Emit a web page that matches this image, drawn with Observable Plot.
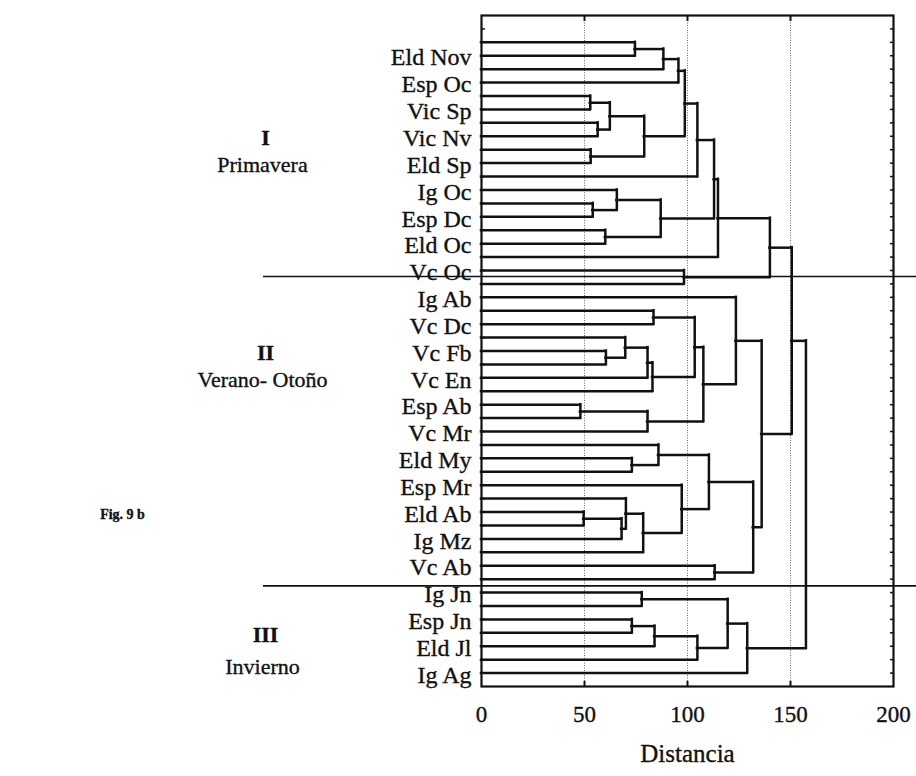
<!DOCTYPE html>
<html>
<head>
<meta charset="utf-8">
<script src="https://cdn.jsdelivr.net/npm/d3@7"></script>
<script src="https://cdn.jsdelivr.net/npm/@observablehq/plot@0.6"></script>
<style>
  body { margin: 0; background: #fff; }
  svg { display: block; }
</style>
</head>
<body>
<div id="chart"></div>
<script>
// Case labels, top to bottom (each label spans two consecutive leaves)
const leafLabels = [
  "Eld Nov", "Esp Oc", "Vic Sp", "Vic Nv", "Eld Sp", "Ig Oc", "Esp Dc", "Eld Oc", "Vc Oc",
  "Ig Ab", "Vc Dc", "Vc Fb", "Vc En", "Esp Ab", "Vc Mr", "Eld My", "Esp Mr", "Eld Ab", "Ig Mz", "Vc Ab",
  "Ig Jn", "Esp Jn", "Eld Jl", "Ig Ag"
];
const leafCount = 48;

// Agglomeration steps: [a, b, distance]; negative = leaf number, positive = earlier step number
const merges = [
  [-1, -2, 74.5], [1, -3, 88.3], [2, -4, 95.6],
  [-5, -6, 52.8], [-7, -8, 56.4], [4, 5, 62.3], [-9, -10, 53], [6, 7, 79],
  [3, 8, 98.7], [9, -11, 104.8],
  [-13, -14, 54], [-12, 11, 65.7], [-15, -16, 60.1], [12, 13, 87],
  [10, 14, 112.9], [15, -17, 114.8], [-18, -19, 98.3], [16, 17, 140],
  [-21, -22, 83.5], [-24, -25, 60.4], [-23, 20, 69.8], [21, -26, 80.6], [22, -27, 83],
  [19, 23, 103.5], [-28, -29, 48], [25, -30, 80.6], [24, 26, 107.7], [-20, 27, 123.5],
  [-32, -33, 73], [-31, 29, 85.9], [-36, -37, 49.6], [31, -38, 68], [-35, 32, 70.1],
  [33, -39, 78.5], [-34, 34, 97.2], [30, 35, 110.4], [-40, -41, 113.2], [36, 37, 131.9],
  [28, 38, 136], [18, 39, 150.6],
  [-42, -43, 77.8], [-44, -45, 73], [42, -46, 84], [43, -47, 104.8], [41, 44, 119.5],
  [45, -48, 129], [40, 46, 157.5]
];

const xTicks = [0, 50, 100, 150, 200];
const gridValues = [50, 100, 150];
const groupNumerals = ["I", "II", "III"];
const groupNames = ["Primavera", "Verano- Otoño", "Invierno"];
const groupNumeralRows = [4, 12, 22.5];
const groupNameRows = [5, 13, 23.7];
const groupBreaks = [18.45, 41.5];
const figureTag = "Fig. 9 b";
const figureTagRow = 18;

// Build the elbow segments of the dendrogram
const nodes = [];
const at = (ref) => ref < 0 ? {x: 0, y: -ref} : nodes[ref - 1];
const hSegs = [], vSegs = [];
for (const [a, b, h] of merges) {
  const A = at(a), B = at(b);
  hSegs.push({y: A.y, x1: A.x, x2: h}, {y: B.y, x1: B.x, x2: h});
  vSegs.push({x: h, y1: A.y, y2: B.y});
  nodes.push({x: h, y: (A.y + B.y) / 2});
}

const rowY = (r) => 2 * r + 0.15;
const W = 916, H = 776, mL = 481, mR = 23, mT = 15, mB = 90;
const serif = "'Liberation Serif', 'Times New Roman', serif";
const line = {stroke: "#111", strokeWidth: 2.5, strokeLinecap: "square"};
const ink = {fill: "#111", stroke: "#111", strokeWidth: 0.35};

const chart = Plot.plot({
  width: W, height: H,
  marginLeft: mL, marginRight: mR, marginTop: mT, marginBottom: mB,
  style: {fontFamily: serif, fontSize: "22px", color: "#111", background: "#fff"},
  x: {domain: [0, 200]},
  y: {domain: [-1, leafCount + 1], reverse: true},
  marks: [
    Plot.gridX(gridValues, {stroke: "#666", strokeOpacity: 1, strokeWidth: 1, strokeDasharray: "1,1.5"}),
    Plot.ruleY(hSegs, {y: "y", x1: "x1", x2: "x2", ...line}),
    Plot.ruleX(vSegs, {x: "x", y1: "y1", y2: "y2", ...line}),
    Plot.ruleY(groupBreaks, {y: d => d, stroke: "#111", strokeWidth: 1.6, insetLeft: -(mL - 263), insetRight: -mR}),
    Plot.frame({stroke: "#111", strokeWidth: 2.2}),
    Plot.axisY(d3.range(0, leafCount + 1), {anchor: "right", tickSize: -4, stroke: "#111", strokeWidth: 1.5, fill: "none", label: null}),
    Plot.axisY(d3.range(0, leafCount + 1), {anchor: "left", tickSize: -4, stroke: "#111", strokeWidth: 1.5, fill: "none", label: null}),
    Plot.axisX(gridValues, {anchor: "bottom", tickSize: -5, stroke: "#111", strokeWidth: 2, fill: "none", label: null}),
    Plot.axisX(gridValues, {anchor: "top", tickSize: -5, stroke: "#111", strokeWidth: 2, fill: "none", label: null}),
    Plot.axisX(xTicks, {anchor: "bottom", tickSize: 0, tickPadding: 19, fontSize: 23, label: null, textStroke: "#111", textStrokeWidth: 0.35}),
    Plot.text(["Distancia"], {frameAnchor: "bottom", dy: 75, fontSize: 25, textAnchor: "middle", ...ink}),
    Plot.text(leafLabels, {y: (d, i) => rowY(i + 1), text: d => d, frameAnchor: "left", dx: -10, textAnchor: "end", fontSize: 24, ...ink}),
    Plot.text(groupNumerals, {y: (d, i) => rowY(groupNumeralRows[i]), text: d => d, frameAnchor: "left", dx: 265 - mL, textAnchor: "middle", fontSize: 22, fontWeight: "bold", ...ink}),
    Plot.text(groupNames, {y: (d, i) => rowY(groupNameRows[i]), text: d => d, frameAnchor: "left", dx: 262 - mL, textAnchor: "middle", fontSize: 22, ...ink}),
    Plot.text([figureTag], {y: () => rowY(figureTagRow), frameAnchor: "left", dx: 122 - mL, textAnchor: "middle", fontSize: 14, fontWeight: "bold", ...ink})
  ]
});
document.getElementById("chart").append(chart);
</script>
</body>
</html>
